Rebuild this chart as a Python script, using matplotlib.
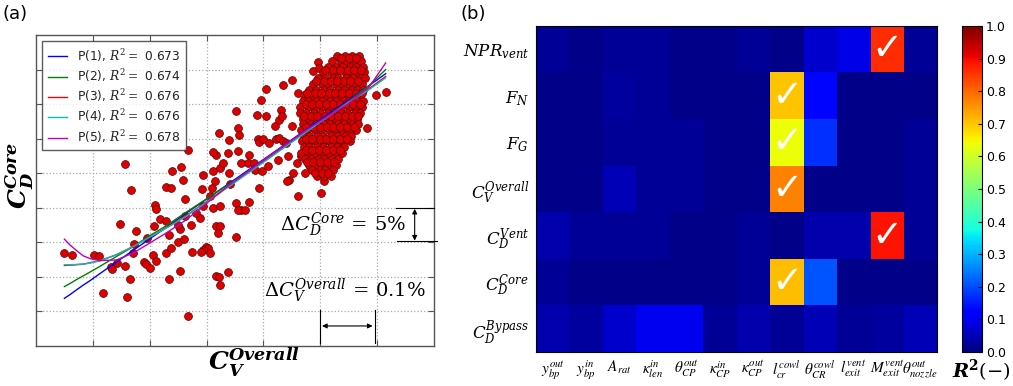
import numpy as np
import matplotlib
matplotlib.use("Agg")
import matplotlib.pyplot as plt

plt.rcParams['mathtext.fontset'] = 'dejavuserif'
plt.rcParams['font.family'] = ['DejaVu Sans']

# ---------------- panel (a) data ----------------
# sparse scatter points (grid units)
sparse_x = [1.561, 1.678, 0.497, 0.626, 1.023, 1.105, 1.327, 1.339, 1.427, 1.561,
            1.181, 1.602, 1.661, 1.485, 1.754, 1.719, 1.708, 1.953, 1.901, 1.930,
            2.000, 2.058, 2.117, 2.076, 2.099, 2.117, 2.187, 2.292, 2.333, 2.292,
            2.368, 2.339, 2.292, 2.380, 2.398, 2.544, 2.585, 2.620, 2.497, 2.596,
            2.526, 2.526, 2.497, 2.673, 2.614, 2.673, 2.731, 2.749, 2.936, 2.918,
            3.053, 3.094, 3.140, 3.111, 3.228, 3.170, 3.111, 3.216, 3.374, 3.392,
            3.287, 3.415, 3.520, 3.550, 3.567, 3.550, 3.392, 3.608, 3.754, 3.725,
            3.842, 3.889, 3.901, 3.918, 4.000, 4.047, 3.965, 4.047, 3.860, 3.918,
            3.977, 4.076, 4.105, 4.211, 4.222, 4.281, 4.339, 4.251, 4.398, 4.427,
            4.591, 4.602, 4.456, 4.415, 4.515, 4.737, 2.936, 2.877, 2.819, 3.111,
            3.228, 3.170, 3.228, 3.199, 3.520, 3.608, 3.550, 3.754, 3.684, 3.520,
            2.982, 3.023, 2.936, 2.906, 3.064, 3.374, 3.158, 3.216, 3.228, 4.339,
            4.503, 4.281, 4.310, 4.327, 4.503, 4.661, 4.819, 4.865, 4.953, 5.070,
            5.012, 5.830, 5.977, 6.152, 4.602, 4.982]
sparse_y = [5.275, 4.502, 2.686, 2.638, 2.638, 2.609, 2.300, 2.222, 2.396, 2.329,
            1.546, 1.430, 1.942, 3.536, 3.333, 2.947, 2.686, 3.121, 2.425, 2.377,
            2.251, 2.638, 2.473, 3.459, 4.087, 3.961, 3.671, 3.604, 3.217, 2.705,
            2.850, 1.942, 4.589, 4.560, 5.053, 5.179, 4.812, 4.261, 3.005, 3.092,
            2.184, 3.391, 3.507, 0.879, 3.749, 5.681, 3.507, 2.734, 4.957, 4.541,
            4.329, 4.570, 4.763, 5.053, 5.150, 5.536, 5.614, 6.164, 5.585, 5.971,
            5.295, 4.686, 6.792, 6.309, 6.116, 5.633, 5.005, 5.295, 5.536, 5.295,
            5.295, 6.696, 5.990, 5.894, 5.990, 6.647, 7.130, 7.440, 5.101, 4.570,
            5.053, 5.198, 5.874, 6.357, 5.990, 6.019, 5.923, 5.391, 5.874, 5.488,
            5.295, 4.329, 4.812, 4.763, 5.005, 5.005, 4.058, 3.700, 3.845, 3.990,
            4.058, 3.459, 3.459, 3.266, 4.135, 3.923, 3.942, 4.164, 3.923, 3.150,
            2.879, 2.831, 2.783, 2.734, 2.686, 2.155, 2.029, 1.990, 1.768, 7.565,
            7.710, 6.551, 6.841, 6.647, 6.357, 5.488, 5.217, 7.952, 8.213, 4.763,
            4.425, 6.309, 7.275, 7.343, 7.324, 8.048]

# dense cluster, read row by row (y of the row, x positions in the row)
cluster_row_y = [8.40, 8.25, 8.08, 7.92, 7.75, 7.58, 7.42, 7.25, 7.08, 6.92,
                 6.75, 6.58, 6.42, 6.25, 6.08, 5.92, 5.75, 5.58, 5.42, 5.25,
                 5.08, 4.92,
                 8.33, 8.00, 7.66, 7.33, 7.00, 6.67, 6.33, 6.00, 5.67, 5.33, 5.00]
cluster_row_x = [
    [5.30, 5.43, 5.56, 5.68],
    [5.21, 5.36, 5.47, 5.61, 5.72],
    [5.14, 5.28, 5.39, 5.53, 5.62, 5.75],
    [5.04, 5.19, 5.29, 5.43, 5.54, 5.67, 5.77],
    [4.96, 5.09, 5.23, 5.32, 5.46, 5.57, 5.71, 5.78],
    [4.88, 5.03, 5.13, 5.27, 5.37, 5.51, 5.61, 5.74],
    [4.81, 4.92, 5.07, 5.17, 5.31, 5.41, 5.55, 5.65, 5.76],
    [4.72, 4.87, 4.97, 5.11, 5.21, 5.35, 5.45, 5.59, 5.70],
    [4.69, 4.79, 4.93, 5.03, 5.17, 5.27, 5.41, 5.51, 5.65, 5.76],
    [4.65, 4.79, 4.89, 5.03, 5.13, 5.27, 5.37, 5.51, 5.61, 5.73],
    [4.64, 4.75, 4.89, 4.99, 5.13, 5.23, 5.37, 5.47, 5.61, 5.70],
    [4.69, 4.79, 4.93, 5.03, 5.17, 5.27, 5.41, 5.51, 5.64],
    [4.70, 4.83, 4.93, 5.07, 5.17, 5.31, 5.41, 5.55, 5.66],
    [4.66, 4.77, 4.91, 5.01, 5.15, 5.25, 5.39, 5.49, 5.62],
    [4.71, 4.81, 4.95, 5.05, 5.19, 5.29, 5.43, 5.54],
    [4.68, 4.81, 4.91, 5.05, 5.15, 5.29, 5.39, 5.52],
    [4.71, 4.81, 4.95, 5.05, 5.19, 5.29, 5.42],
    [4.66, 4.79, 4.89, 5.03, 5.13, 5.27, 5.38],
    [4.73, 4.83, 4.97, 5.07, 5.21, 5.32],
    [4.80, 4.93, 5.03, 5.17, 5.28],
    [4.86, 4.99, 5.09, 5.22],
    [4.95, 5.07, 5.18],
    [5.37, 5.50, 5.63],
    [5.09, 5.23, 5.35, 5.48, 5.59, 5.71],
    [4.93, 5.06, 5.18, 5.29, 5.41, 5.53, 5.66],
    [4.77, 4.90, 5.01, 5.15, 5.26, 5.38, 5.50, 5.62, 5.73],
    [4.74, 4.86, 4.98, 5.10, 5.22, 5.34, 5.46, 5.58, 5.70],
    [4.71, 4.83, 4.95, 5.08, 5.19, 5.31, 5.44, 5.56, 5.67],
    [4.75, 4.87, 4.99, 5.11, 5.23, 5.35, 5.47, 5.59],
    [4.75, 4.86, 4.99, 5.10, 5.23, 5.34, 5.47],
    [4.74, 4.86, 4.98, 5.10, 5.22, 5.34],
    [4.77, 4.88, 5.00, 5.12, 5.24],
    [4.91, 5.03, 5.14],
]

# polynomial fit curves
curve_labels = [r'P(1), $R^2=$ 0.673', r'P(2), $R^2=$ 0.674', r'P(3), $R^2=$ 0.676',
                r'P(4), $R^2=$ 0.676', r'P(5), $R^2=$ 0.678']
curve_colors = ['#0000ff', '#008000', '#ff0000', '#00bfbf', '#bf00bf']
curve_x = [0.50, 0.60, 0.70, 0.83, 0.95, 1.12, 1.415, 1.71, 2.00, 2.29, 2.64,
           3.40, 4.10, 4.80, 5.50, 5.86, 6.15]
curve_p1 = [1.38, 1.49, 1.61, 1.76, 1.89, 2.09, 2.43, 2.77, 3.10, 3.43, 3.84,
            4.71, 5.51, 6.32, 7.12, 7.54, 7.88]
curve_p2 = [1.72, 1.81, 1.91, 2.03, 2.14, 2.30, 2.59, 2.88, 3.19, 3.48, 3.87,
            4.69, 5.46, 6.26, 7.08, 7.54, 8.00]
curve_p3 = [2.33, 2.34, 2.35, 2.37, 2.41, 2.47, 2.64, 2.88, 3.15, 3.42, 3.77,
            4.64, 5.45, 6.27, 7.07, 7.45, 7.80]
curve_p4 = [2.35, 2.35, 2.36, 2.37, 2.40, 2.46, 2.64, 2.88, 3.15, 3.41, 3.75,
            4.62, 5.43, 6.25, 7.05, 7.42, 7.76]
curve_p5 = [3.09, 2.92, 2.78, 2.61, 2.53, 2.47, 2.49, 2.69, 2.98, 3.27, 3.65,
            4.66, 5.50, 6.30, 7.02, 7.50, 8.19]

# ---------------- panel (b) data ----------------
row_labels = [r'$NPR_{vent}$', r'$F_N$', r'$F_G$', r'$C_V^{Overall}$',
              r'$C_D^{Vent}$', r'$C_D^{Core}$', r'$C_D^{Bypass}$']
col_labels = [r'$y_{bp}^{out}$', r'$y_{bp}^{in}$', r'$A_{rat}$', r'$\kappa_{len}^{in}$',
              r'$\theta_{CP}^{out}$', r'$\kappa_{CP}^{in}$', r'$\kappa_{CP}^{out}$',
              r'$l_{cr}^{cowl}$', r'$\theta_{CR}^{cowl}$', r'$l_{exit}^{vent}$',
              r'$M_{exit}^{vent}$', r'$\theta_{nozzle}^{out}$']
r2_npr = [0.02, 0.01, 0.02, 0.02, 0.01, 0.01, 0.02, 0.01, 0.07, 0.09, 0.86, 0.02]
r2_fn = [0.01, 0.01, 0.03, 0.02, 0.01, 0.01, 0.01, 0.70, 0.13, 0.01, 0.01, 0.01]
r2_fg = [0.01, 0.01, 0.02, 0.02, 0.02, 0.01, 0.01, 0.64, 0.175, 0.01, 0.01, 0.02]
r2_cv = [0.01, 0.01, 0.05, 0.02, 0.02, 0.01, 0.01, 0.77, 0.01, 0.01, 0.01, 0.02]
r2_cdvent = [0.04, 0.02, 0.02, 0.02, 0.01, 0.01, 0.02, 0.01, 0.04, 0.04, 0.89, 0.02]
r2_cdcore = [0.02, 0.01, 0.01, 0.01, 0.01, 0.01, 0.02, 0.71, 0.21, 0.01, 0.01, 0.01]
r2_cdbypass = [0.04, 0.03, 0.07, 0.10, 0.10, 0.02, 0.04, 0.02, 0.05, 0.02, 0.03, 0.05]
check_rows = [0, 1, 2, 3, 4, 5]
check_cols = [10, 7, 7, 7, 10, 7]
cbar_ticks = [0.0, 0.1, 0.2, 0.3, 0.4, 0.5, 0.6, 0.7, 0.8, 0.9, 1.0]

# ---------------- figure ----------------
W, H = 1013, 386
fig = plt.figure(figsize=(W / 100, H / 100), dpi=100)

def box(x0, y0, x1, y1):
    return [x0 / W, 1 - y1 / H, (x1 - x0) / W, (y1 - y0) / H]

# ---- panel (a)
ax = fig.add_axes(box(36, 35, 434, 346))
ax.set_xlim(0, 7)
ax.set_ylim(0, 9)
ax.set_xticks(range(1, 7))
ax.set_yticks(range(1, 9))
ax.tick_params(direction='in', length=4, top=True, right=True,
               labelbottom=False, labelleft=False, color='#555555')
ax.grid(True, linestyle=':', color='#aaaaaa', linewidth=0.9)
for s in ax.spines.values():
    s.set_color('#555555')
    s.set_linewidth(1.0)

cx, cy = [], []
for yy, xs in zip(cluster_row_y, cluster_row_x):
    for xx in xs:
        cx.append(xx)
        cy.append(yy)
ax.scatter(sparse_x + cx, sparse_y + cy, s=32, facecolor='#dd0000',
           edgecolor='#5a0000', linewidth=0.5, zorder=3)

for ys, c, lab in zip([curve_p1, curve_p2, curve_p3, curve_p4, curve_p5],
                      curve_colors, curve_labels):
    ax.plot(curve_x, ys, color=c, lw=1.0, label=lab, zorder=4)

leg = ax.legend(loc='upper left', fontsize=8.8, frameon=True, fancybox=False,
                borderaxespad=0.5, labelspacing=0.28, handlelength=1.6,
                borderpad=0.45)
leg.get_frame().set_edgecolor('#333333')
leg.get_frame().set_linewidth(1.0)
for t in leg.get_texts():
    t.set_color('#222222')

# annotations
ax.text(6.51, 3.50, r'$\Delta C_D^{Core}\, =\, 5\%$', fontsize=14,
        ha='right', va='center', zorder=5)
ax.text(6.86, 1.60, r'$\Delta C_V^{Overall}\, =\, 0.1\%$', fontsize=14,
        ha='right', va='center', zorder=5)
ax.plot([6.33, 7.0], [4.0, 4.0], color='k', lw=0.8, clip_on=False, zorder=5)
ax.plot([6.35, 7.05], [3.05, 3.05], color='k', lw=0.8, clip_on=False, zorder=5)
ax.annotate('', xy=(6.66, 3.97), xytext=(6.66, 3.05),
            arrowprops=dict(arrowstyle='<|-|>', color='k', lw=0.8,
                            mutation_scale=7, shrinkA=0, shrinkB=0))
ax.plot([5.0, 5.0], [0.08, 1.04], color='k', lw=0.8, zorder=5)
ax.plot([5.97, 5.97], [0.08, 1.04], color='k', lw=0.8, zorder=5)
ax.annotate('', xy=(5.03, 0.58), xytext=(5.92, 0.58),
            arrowprops=dict(arrowstyle='<|-|>', color='k', lw=0.8,
                            mutation_scale=7, shrinkA=0, shrinkB=0))

fig.text(254 / W, 1 - 362 / H, r'$\mathbfit{C}_{\mathbfit{V}}^{\mathbfit{Overall}}$',
         fontsize=18, ha='center', va='center')
fig.text(20 / W, 1 - 175 / H, r'$\mathbfit{C}_{\mathbfit{D}}^{\mathbfit{Core}}$',
         fontsize=18, ha='center', va='center', rotation=90)
fig.text(2 / W, 1 - 14 / H, '(a)', fontsize=13, ha='left', va='center')
fig.text(461 / W, 1 - 14 / H, '(b)', fontsize=13, ha='left', va='center')

# ---- panel (b)
axh = fig.add_axes(box(536, 26, 937, 352))
data = np.array([r2_npr, r2_fn, r2_fg, r2_cv, r2_cdvent, r2_cdcore, r2_cdbypass])
im = axh.imshow(data, cmap='jet', vmin=0, vmax=1, aspect='auto',
                interpolation='nearest')
axh.set_yticks(range(len(row_labels)))
axh.set_yticklabels(row_labels, fontsize=12)
axh.set_xticks(range(len(col_labels)))
axh.set_xticklabels(col_labels, fontsize=11)
for t in axh.get_xticklabels():
    t.set_math_fontfamily('stix')
axh.tick_params(length=0, pad=5)
for s in axh.spines.values():
    s.set_linewidth(0.8)
for r, c in zip(check_rows, check_cols):
    axh.text(c, r + 0.02, '\u2713', color='white', fontsize=27,
             ha='center', va='center', fontweight='bold')

cax = fig.add_axes(box(962, 26, 982, 352))
cb = fig.colorbar(im, cax=cax, ticks=cbar_ticks)
cb.ax.set_yticklabels(['%.1f' % t for t in cbar_ticks])
cb.ax.tick_params(labelsize=9, direction='in', length=3, pad=3)
cb.outline.set_linewidth(0.8)
fig.text(1011 / W, 1 - 371 / H, r'$\mathbfit{R}^{\mathbf{2}}\mathrm{(-)}$',
         fontsize=14, ha='right', va='center')

fig.savefig('out.png', dpi=100)
